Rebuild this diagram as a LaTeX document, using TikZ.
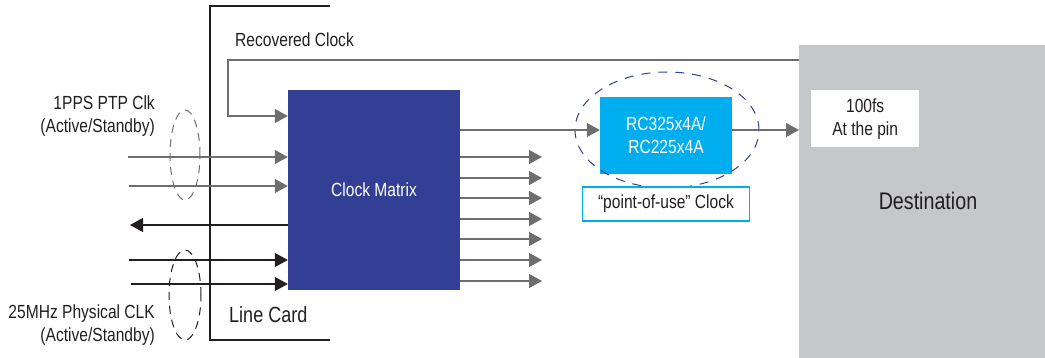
\documentclass[tikz,border=0pt]{standalone}
\usepackage{fontspec}
\setmainfont{Liberation Sans}[FakeStretch=0.82]
\usepackage{tikz}
\usetikzlibrary{positioning,arrows.meta,shapes.geometric}
\definecolor{matrixblue}{HTML}{333F94}
\definecolor{chipcyan}{HTML}{00AEEF}
\definecolor{destgray}{HTML}{C6C7C9}
\definecolor{wiregray}{HTML}{6D6E70}
\definecolor{inkblack}{HTML}{231F20}

\begin{document}
\begin{tikzpicture}[x=1pt, y=-1pt,
    graywire/.style={draw=wiregray, line width=1.3pt, -{Triangle[length=13pt, width=14pt]}},
    blackwire/.style={draw=inkblack, line width=1.3pt, -{Triangle[length=13pt, width=14pt]}},
    labeltext/.style={text=inkblack, font=\fontsize{19}{23}\selectfont, inner sep=0pt},
    bluebox/.style={fill=matrixblue, text=white, font=\fontsize{19}{23}\selectfont, minimum width=172pt, minimum height=200pt},
    chipbox/.style={fill=chipcyan, text=white, align=center, font=\fontsize{19}{23}\selectfont, minimum width=132pt, minimum height=77pt},
    groupring/.style={ellipse, draw, line width=1pt, dash pattern=on 8pt off 6pt}
]
\useasboundingbox (0,0) rectangle (1045,358);
% destination and line card
\node[fill=destgray, minimum width=246pt, minimum height=313pt, anchor=north west, inner sep=0pt](dest) at (799,45){};
\node[labeltext, font=\fontsize{24}{28}\selectfont](destlabel) at (928,201){Destination};
\node[fill=white, align=center, labeltext, minimum width=108pt, minimum height=57pt, anchor=north west](atpin) at (811,90){100fs\\At the pin};
\coordinate (cardtop) at (330,6);
\coordinate (cardbot) at (330,340);
\draw[inkblack, line width=1.3pt] (cardtop) -- (210,6) -- (210,340) -- (cardbot);
\node[labeltext, font=\fontsize{22}{26}\selectfont, anchor=west](linecard) at (229,315){Line Card};
% clock matrix
\node[bluebox](clkmatrix) at (374,190){Clock Matrix};
\node[labeltext, anchor=west](recovlabel) at (235,40){Recovered Clock};
\coordinate (recov) at (799,60);
\draw[graywire] (recov) -- (228,60) -- (228,116) -- (clkmatrix.west |- 0,116);
% inputs
\coordinate (ppsa) at (128,157);
\coordinate (ppsb) at (129,186);
\coordinate (outleft) at (130,225);
\coordinate (phya) at (129,260);
\coordinate (phyb) at (131,284);
\draw[graywire] (ppsa) -- (clkmatrix.west |- ppsa);
\draw[graywire] (ppsb) -- (clkmatrix.west |- ppsb);
\draw[blackwire] (clkmatrix.west |- outleft) -- (outleft);
\draw[blackwire] (phya) -- (clkmatrix.west |- phya);
\draw[blackwire] (phyb) -- (clkmatrix.west |- phyb);
\node[groupring, draw=wiregray, minimum width=30pt, minimum height=90pt](ppsring) at (185,155){};
\node[groupring, draw=inkblack, minimum width=32pt, minimum height=90pt](phyring) at (185,295){};
\node[labeltext, align=right, anchor=east](ppslabel) at (155,116){1PPS PTP Clk\\(Active/Standby)};
\node[labeltext, align=right, anchor=east](phylabel) at (155,325){25MHz Physical CLK\\(Active/Standby)};
% outputs
\foreach \y in {157,178,198,219,239,260,281}
  \draw[graywire] (clkmatrix.east |- 0,\y) -- (542,\y);
% point-of-use clock
\node[chipbox](rcchip) at (666,135.5){RC325x4A/\\RC225x4A};
\node[groupring, draw=matrixblue, dash pattern=on 9pt off 8pt, minimum width=184pt, minimum height=116pt](porring) at (667,130){};
\node[labeltext, fill=white, draw=chipcyan, line width=1.5pt, minimum width=167pt, minimum height=34pt](pouse)[below=12pt of rcchip]{``point-of-use'' Clock};
\coordinate (rcin) at (rcchip.west |- 0,130);
\draw[graywire] (clkmatrix.east |- rcin) -- (rcin);
\draw[graywire] (rcchip.east |- rcin) -- (dest.west |- rcin);
\end{tikzpicture}
\end{document}
